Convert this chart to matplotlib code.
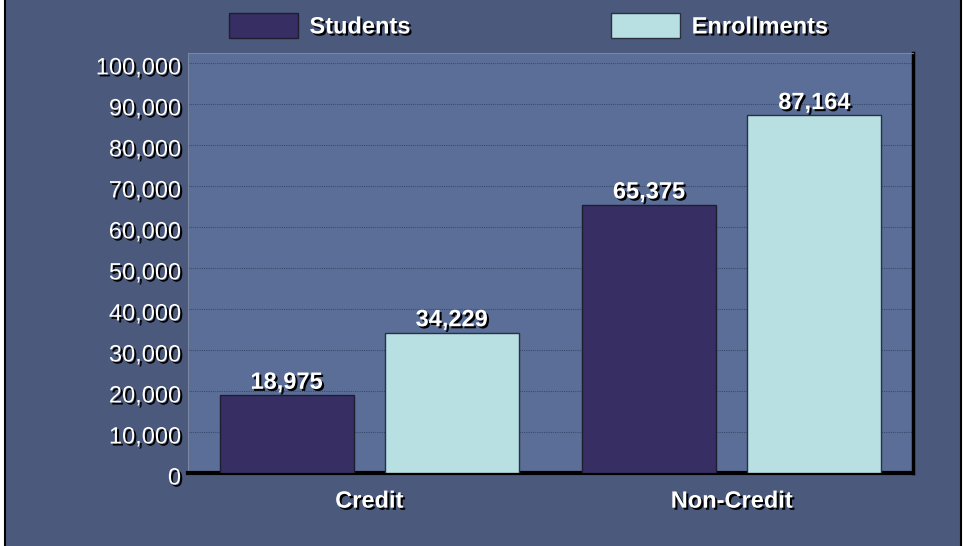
import matplotlib.pyplot as plt
import matplotlib.patheffects as pe
import matplotlib.transforms as mtrans
from matplotlib.patches import Rectangle
import numpy as np

plt.rcParams['font.family'] = ['Liberation Sans', 'DejaVu Sans']

categories = ['Credit', 'Non-Credit']
students = [18975, 65375]
enrollments = [34229, 87164]
series_names = ['Students', 'Enrollments']

outer_bg = '#4b5a7c'
plot_bg = '#5a6e98'
dark = '#372e63'
light = '#b8e0e3'

shadow = [pe.withSimplePatchShadow(offset=(1.5, -1.5), shadow_rgbFace='black', alpha=1.0)]

fig = plt.figure(figsize=(9.64, 5.46), dpi=100, facecolor='white')
fig.patches.append(Rectangle((5 / 964, -0.01), 956 / 964, 1.05, transform=fig.transFigure,
                             facecolor=outer_bg, edgecolor='black', linewidth=1.5, zorder=-10))

ax = fig.add_axes([188 / 964, 1 - 473 / 546, 725 / 964, 420 / 546])
ax.set_facecolor(plot_bg)

x = np.arange(len(categories))
w = 0.37
off = 0.228
b1 = ax.bar(x - off, students, w, color=dark, edgecolor='#1e1e30', linewidth=1, label=series_names[0], zorder=3)
b2 = ax.bar(x + off, enrollments, w, color=light, edgecolor='#2a3040', linewidth=1, label=series_names[1], zorder=3)

for bars, vals in ((b1, students), (b2, enrollments)):
    for r, v in zip(bars, vals):
        ax.annotate(f'{v:,}', (r.get_x() + r.get_width() / 2, r.get_height()),
                    xytext=(0, 1), textcoords='offset points', ha='center', va='bottom',
                    fontsize=17, fontweight='bold', color='white', path_effects=shadow, zorder=5)

ax.set_xlim(-0.5, 1.5)
ax.set_ylim(0, 102400)
ax.set_yticks(np.arange(0, 100001, 10000))
ax.set_yticklabels([f'{v:,}' for v in range(0, 100001, 10000)])
ax.set_xticks(x)
ax.set_xticklabels(categories, fontweight='bold')
ax.tick_params(axis='both', length=0, labelsize=17, labelcolor='white')
ax.tick_params(axis='y', pad=5)
ax.tick_params(axis='x', pad=12)
down = mtrans.ScaledTranslation(0, -3 / 100, fig.dpi_scale_trans)
for lbl in ax.get_yticklabels():
    lbl.set_transform(lbl.get_transform() + down)
for lbl in ax.get_xticklabels() + ax.get_yticklabels():
    lbl.set_path_effects(shadow)

ax.grid(axis='y', color='#3a4a6c', linestyle=(0, (1, 1)), linewidth=0.8, zorder=0)

ax.spines['left'].set_color('#7a86a0')
ax.spines['top'].set_color('#7a86a0')
ax.spines['right'].set_color('black')
ax.spines['right'].set_linewidth(2.5)
ax.spines['bottom'].set_color('black')
ax.spines['bottom'].set_linewidth(3)

leg = fig.legend(handles=[b1, b2], loc='upper center', bbox_to_anchor=(0.5485, 1.015), ncol=2,
                 frameon=False, prop={'weight': 'bold', 'size': 17}, handlelength=2.9,
                 handleheight=1.25, handletextpad=0.5, columnspacing=8.5)
for t in leg.get_texts():
    t.set_color('white')
    t.set_path_effects(shadow)

fig.savefig('out.png', dpi=100, facecolor=fig.get_facecolor())
